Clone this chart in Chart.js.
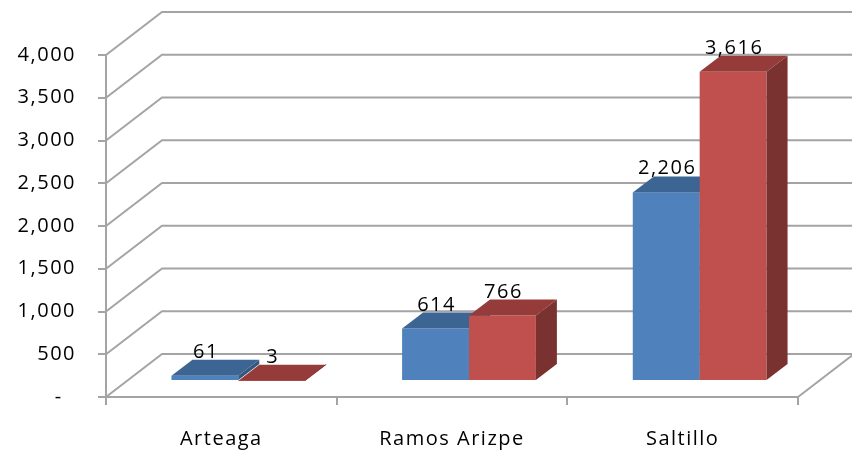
<!DOCTYPE html>
<html>
<head>
<meta charset="utf-8">
<script src="https://cdn.jsdelivr.net/npm/chart.js@4.4.0/dist/chart.umd.min.js"></script>
<style>
  html, body { margin: 0; padding: 0; background: #fff; }
  #wrap { width: 852px; height: 451px; }
</style>
</head>
<body>
<div id="wrap"><canvas id="c"></canvas></div>
<script>
// data
const categories = ["Arteaga", "Ramos Arizpe", "Saltillo"];
const serieAzul = [61, 614, 2206];
const serieRoja = [3, 766, 3616];
const yMax = 4000;
const yStep = 500;

// 3d look
const wallDx = 56, wallDy = -43;   // depth of the back wall
const shiftX = 17, shiftY = -16;   // where the bar fronts sit inside the box
const barDx = 21, barDy = -16;     // depth of each bar
const gridColor = "#a4a4a4";
const fontFam = "'Open Sans', Lato, sans-serif";
const fontSize = 20;

const shades = [
  { front: "#4f81bd", top: "#3d6593", side: "#34577f" },
  { front: "#c0504d", top: "#953c3a", side: "#7a3230" }
];

const box3d = {
  id: "box3d",
  beforeDraw(chart) {
    chart.ctx.letterSpacing = "1.5px";
  },
  beforeDatasetsDraw(chart) {
    const ctx = chart.ctx;
    const y = chart.scales.y;
    const left = chart.chartArea.left, right = chart.chartArea.right;
    ctx.save();
    ctx.strokeStyle = gridColor;
    ctx.lineWidth = 2;
    ctx.beginPath();
    for (let v = 0; v <= yMax; v += yStep) {
      const py = y.getPixelForValue(v);
      // left wall diagonal then back wall line
      ctx.moveTo(left, py);
      ctx.lineTo(left + wallDx, py + wallDy);
      ctx.lineTo(chart.width, py + wallDy);
    }
    // floor right edge
    const p0 = y.getPixelForValue(0);
    ctx.moveTo(right, p0);
    ctx.lineTo(right + wallDx, p0 + wallDy);
    ctx.stroke();
    ctx.restore();
  },
  afterDatasetsDraw(chart) {
    const ctx = chart.ctx;
    const metas = chart.data.datasets.map((ds, i) => chart.getDatasetMeta(i));
    ctx.save();
    ctx.translate(shiftX, shiftY);
    // draw each category left to right, blue then red, so later faces cover earlier ones
    categories.forEach((c, j) => {
      metas.forEach((meta, i) => {
        const sh = shades[i];
        const { x, y, base, width } = meta.data[j].getProps(["x", "y", "base", "width"], true);
        const l = x - width / 2, r = x + width / 2;
        ctx.fillStyle = sh.front;
        ctx.fillRect(l, y, width, base - y);
        ctx.fillStyle = sh.top;
        ctx.beginPath();
        ctx.moveTo(l, y);
        ctx.lineTo(r, y);
        ctx.lineTo(r + barDx, y + barDy);
        ctx.lineTo(l + barDx, y + barDy);
        ctx.closePath();
        ctx.fill();
        ctx.fillStyle = sh.side;
        ctx.beginPath();
        ctx.moveTo(r, y);
        ctx.lineTo(r + barDx, y + barDy);
        ctx.lineTo(r + barDx, base + barDy);
        ctx.lineTo(r, base);
        ctx.closePath();
        ctx.fill();
      });
    });
    // value labels above the bars
    ctx.fillStyle = "#000";
    ctx.font = fontSize + "px " + fontFam;
    ctx.textAlign = "center";
    ctx.textBaseline = "alphabetic";
    chart.data.datasets.forEach((ds, i) => {
      metas[i].data.forEach((bar, j) => {
        const { x, y } = bar.getProps(["x", "y"], true);
        ctx.fillText(ds.data[j].toLocaleString("en-US"), x + 1, y + barDy - 2);
      });
    });
    ctx.restore();
  }
};

new Chart("c", {
  type: "bar",
  data: {
    labels: categories,
    datasets: [
      { data: serieAzul, backgroundColor: "rgba(0,0,0,0)", borderWidth: 0, clip: false },
      { data: serieRoja, backgroundColor: "rgba(0,0,0,0)", borderWidth: 0, clip: false }
    ]
  },
  options: {
    responsive: true,
    maintainAspectRatio: false,
    animation: false,
    categoryPercentage: 0.58,
    barPercentage: 1,
    layout: { padding: { top: 55, right: 54, left: 0, bottom: 0 } },
    plugins: {
      legend: { display: false },
      tooltip: { enabled: false }
    },
    scales: {
      x: {
        afterFit(s) { s.height = 54; },
        border: { display: true, color: gridColor, width: 2 },
        grid: { display: true, drawOnChartArea: false, drawTicks: true, tickLength: 8, color: gridColor, lineWidth: 2 },
        ticks: { color: "#000", font: { family: fontFam, size: fontSize }, padding: 22, maxRotation: 0 }
      },
      y: {
        min: 0,
        max: yMax,
        afterFit(s) { s.width = 106; },
        border: { display: true, color: gridColor, width: 2 },
        grid: { display: true, drawOnChartArea: false, drawTicks: true, tickLength: 8, color: gridColor, lineWidth: 2 },
        ticks: {
          stepSize: yStep,
          color: "#000",
          font: { family: fontFam, size: fontSize },
          padding: 22,
          callback: v => v === 0 ? "-\u00a0\u00a0" : v.toLocaleString("en-US")
        }
      }
    }
  },
  plugins: [box3d]
});
</script>
</body>
</html>
